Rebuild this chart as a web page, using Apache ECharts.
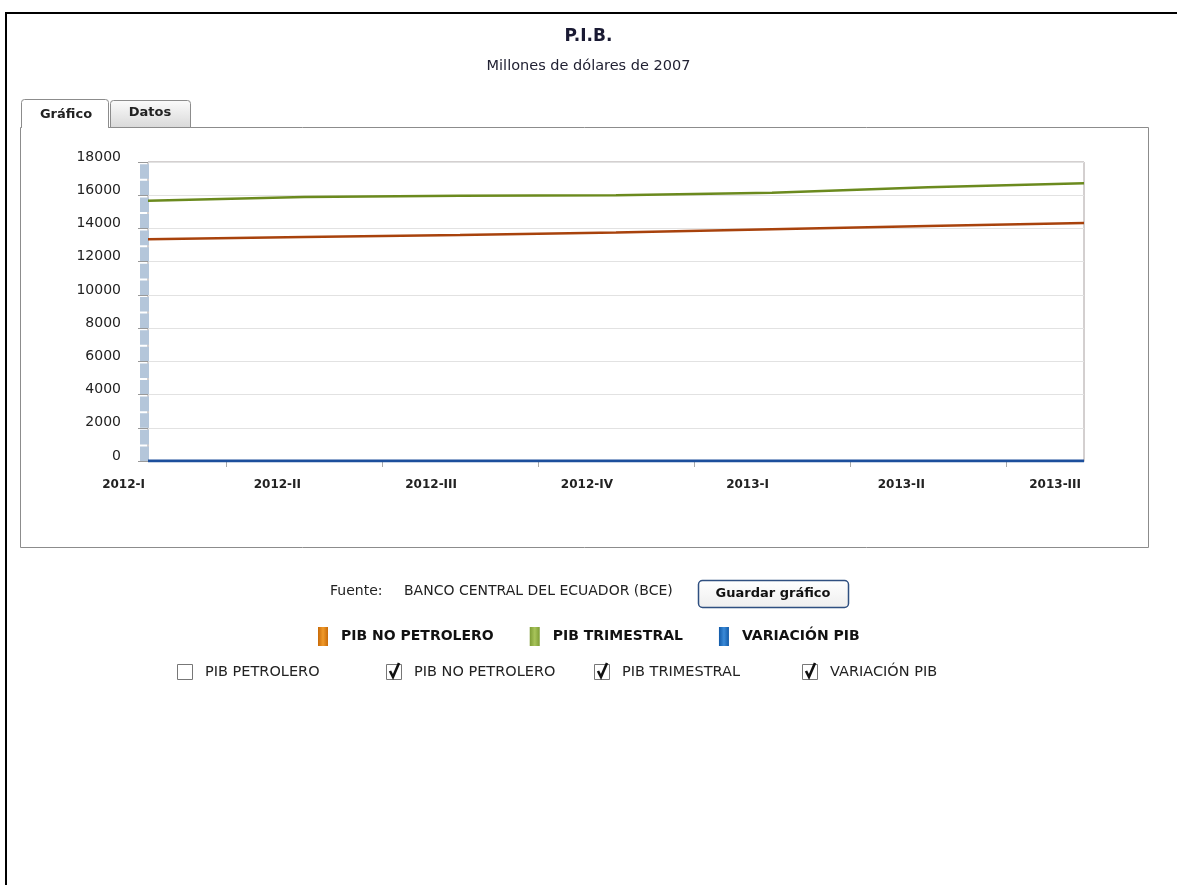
<!DOCTYPE html>
<html>
<head>
<meta charset="utf-8">
<script src="https://cdn.jsdelivr.net/npm/echarts@6/dist/echarts.min.js"></script>
<style>
html,body{margin:0;padding:0;background:#fff;}
#c{width:1177px;height:885px;}
</style>
</head>
<body>
<div id="c"></div>
<script>
// ---- data ----
var categories = ['2012-I','2012-II','2012-III','2012-IV','2013-I','2013-II','2013-III'];
var pibNoPetrolero = [13350, 13480, 13610, 13760, 13950, 14150, 14330];
var pibTrimestral  = [15670, 15890, 15970, 16000, 16150, 16480, 16720];
var variacionPib   = [1.1, 0.9, 0.5, 0.4, 0.9, 1.3, 1.6];
var yTicks = [0, 2000, 4000, 6000, 8000, 10000, 12000, 14000, 16000, 18000];
var seriesNames = ['PIB NO PETROLERO', 'PIB TRIMESTRAL', 'VARIACIÓN PIB'];
var checkboxNames = ['PIB PETROLERO', 'PIB NO PETROLERO', 'PIB TRIMESTRAL', 'VARIACIÓN PIB'];
var checkboxChecked = [false, true, true, true];

var FONT = '"DejaVu Sans", Verdana, sans-serif';
var chart = echarts.init(document.getElementById('c'), null, {renderer: 'canvas'});

var midTicks = [];
for (var i = 0; i < categories.length - 1; i++) midTicks.push(i + 0.5);

var cbX = [177, 386, 594, 802];
var graphics = [
  // outer frame lines
  {type: 'rect', shape: {x: 5, y: 12, width: 1172, height: 2}, style: {fill: '#000'}, silent: true},
  {type: 'rect', shape: {x: 5, y: 12, width: 2, height: 873}, style: {fill: '#000'}, silent: true},
  // tab panel
  {type: 'rect', shape: {x: 20.5, y: 127.5, width: 1128, height: 420}, style: {fill: '#fff', stroke: '#8c8c8c', lineWidth: 1}, z: -10, silent: true},
  // Datos tab
  {type: 'rect', shape: {x: 110.5, y: 100.5, width: 80, height: 27, r: [3, 3, 0, 0]},
   style: {fill: new echarts.graphic.LinearGradient(0, 0, 0, 1, [{offset: 0, color: '#fbfbfb'}, {offset: 1, color: '#d9d9d9'}]), stroke: '#8c8c8c', lineWidth: 1}, z: -9, silent: true},
  // Grafico tab (active)
  {type: 'rect', shape: {x: 21.5, y: 99.5, width: 87, height: 28, r: [3, 3, 0, 0]}, style: {fill: '#fff', stroke: '#8c8c8c', lineWidth: 1}, z: -9, silent: true},
  {type: 'rect', shape: {x: 22, y: 126, width: 86, height: 3}, style: {fill: '#fff'}, z: -8, silent: true},
  {type: 'text', x: 66, y: 115, style: {text: 'Gráfico', font: 'bold 13px ' + FONT, fill: '#222', textAlign: 'center', textVerticalAlign: 'middle'}, silent: true},
  {type: 'text', x: 150, y: 113, style: {text: 'Datos', font: 'bold 13px ' + FONT, fill: '#222', textAlign: 'center', textVerticalAlign: 'middle'}, silent: true},
  // source row
  {type: 'text', x: 330, y: 591, style: {text: 'Fuente:', font: '14px ' + FONT, fill: '#222', textVerticalAlign: 'middle'}, silent: true},
  {type: 'text', x: 404, y: 591, style: {text: 'BANCO CENTRAL DEL ECUADOR (BCE)', font: '14px ' + FONT, fill: '#222', textVerticalAlign: 'middle'}, silent: true},
  {type: 'rect', shape: {x: 698.5, y: 580.5, width: 150, height: 27, r: 4},
   style: {fill: new echarts.graphic.LinearGradient(0, 0, 0, 1, [{offset: 0, color: '#ffffff'}, {offset: 1, color: '#eeeeee'}]), stroke: '#2f4f80', lineWidth: 1.5}, silent: true},
  {type: 'text', x: 773, y: 594, style: {text: 'Guardar gráfico', font: 'bold 13px ' + FONT, fill: '#111', textAlign: 'center', textVerticalAlign: 'middle'}, silent: true}
];
checkboxNames.forEach(function (n, i) {
  var x = cbX[i];
  graphics.push({type: 'rect', shape: {x: x + 0.5, y: 664.5, width: 15, height: 15}, style: {fill: '#fff', stroke: '#777', lineWidth: 1}, silent: true});
  if (checkboxChecked[i]) {
    graphics.push({type: 'polyline', shape: {points: [[x + 4, 671], [x + 7, 677], [x + 13, 663]]}, style: {stroke: '#111', lineWidth: 2.6, fill: null}, silent: true});
  }
  graphics.push({type: 'text', x: x + 28, y: 672, style: {text: n, font: '14.5px ' + FONT, fill: '#222', textVerticalAlign: 'middle'}, silent: true});
});

var option = {
  animation: false,
  backgroundColor: '#fff',
  title: {
    text: 'P.I.B.',
    subtext: 'Millones de dólares de 2007',
    left: 'center',
    top: 23,
    itemGap: 14,
    textStyle: {fontFamily: FONT, fontSize: 17, fontWeight: 'bold', color: '#1a1a33'},
    subtextStyle: {fontFamily: FONT, fontSize: 14.5, color: '#222233'}
  },
  legend: {
    left: 313,
    top: 622,
    itemWidth: 10,
    itemHeight: 19,
    itemGap: 36,
    icon: 'rect',
    selectedMode: false,
    textStyle: {fontFamily: FONT, fontSize: 14, fontWeight: 'bold', color: '#111', padding: [0, 0, 0, 8]},
    data: [
      {name: seriesNames[0], itemStyle: {color: new echarts.graphic.LinearGradient(0, 0, 1, 0, [{offset: 0, color: '#c86a08'}, {offset: 0.5, color: '#f09a2a'}, {offset: 1, color: '#c86a08'}])}},
      {name: seriesNames[1], itemStyle: {color: new echarts.graphic.LinearGradient(0, 0, 1, 0, [{offset: 0, color: '#7d9c35'}, {offset: 0.5, color: '#a8c45a'}, {offset: 1, color: '#7d9c35'}])}},
      {name: seriesNames[2], itemStyle: {color: new echarts.graphic.LinearGradient(0, 0, 1, 0, [{offset: 0, color: '#125aa8'}, {offset: 0.5, color: '#3a8ad8'}, {offset: 1, color: '#125aa8'}])}}
    ]
  },
  grid: {
    left: 148, top: 162, width: 936, height: 299,
    show: true, borderColor: '#a8a0a0', borderWidth: 1, backgroundColor: 'transparent'
  },
  xAxis: [
    {
      type: 'category', data: categories, boundaryGap: false,
      axisLine: {show: true, lineStyle: {color: '#b0b0b0', width: 1}},
      axisTick: {show: false},
      axisLabel: {interval: 0, align: 'right', margin: 18, padding: [0, 3, 0, 0],
        fontFamily: FONT, fontSize: 12, fontWeight: 'bold', color: '#222'},
      splitLine: {show: false}
    },
    {
      type: 'value', min: 0, max: categories.length - 1, position: 'bottom',
      axisLine: {show: false},
      axisTick: {show: true, customValues: midTicks, length: 6, lineStyle: {color: '#aaa'}},
      axisLabel: {show: false},
      splitLine: {show: false}
    }
  ],
  yAxis: [
    {
      type: 'value', min: yTicks[0], max: yTicks[yTicks.length - 1], interval: yTicks[1] - yTicks[0],
      position: 'left',
      offset: 10,
      axisLine: {show: false},
      axisTick: {show: true, length: 10, lineStyle: {color: '#999'}},
      axisLabel: {margin: 17, fontFamily: FONT, fontSize: 14, color: '#222',
        verticalAlign: 'bottom', lineHeight: 10,
        formatter: function (v) { return String(v); }},
      splitLine: {show: true, lineStyle: {color: '#e2e2e2', width: 1}}
    },
    {
      type: 'value', min: yTicks[0], max: yTicks[yTicks.length - 1], interval: yTicks[1] - yTicks[0],
      position: 'left',
      offset: 4,
      axisLine: {show: true, lineStyle: {color: '#b4c6da', width: 9, type: [14.6, 2], cap: 'butt'}},
      axisTick: {show: false},
      axisLabel: {show: false},
      splitLine: {show: false}
    }
  ],
  series: [
    {name: seriesNames[0], type: 'line', data: pibNoPetrolero, symbol: 'none', z: 3,
     lineStyle: {color: '#a8420c', width: 2.5}, itemStyle: {color: '#e0801a'}},
    {name: seriesNames[1], type: 'line', data: pibTrimestral, symbol: 'none', z: 3,
     lineStyle: {color: '#6b8a1e', width: 2.5}, itemStyle: {color: '#8fae3c'}},
    {name: seriesNames[2], type: 'line', data: variacionPib, symbol: 'none', z: 4,
     lineStyle: {color: '#1c4f9c', width: 3}, itemStyle: {color: '#1f6fbf'}}
  ],
  graphic: graphics
};
chart.setOption(option);
</script>
</body>
</html>
